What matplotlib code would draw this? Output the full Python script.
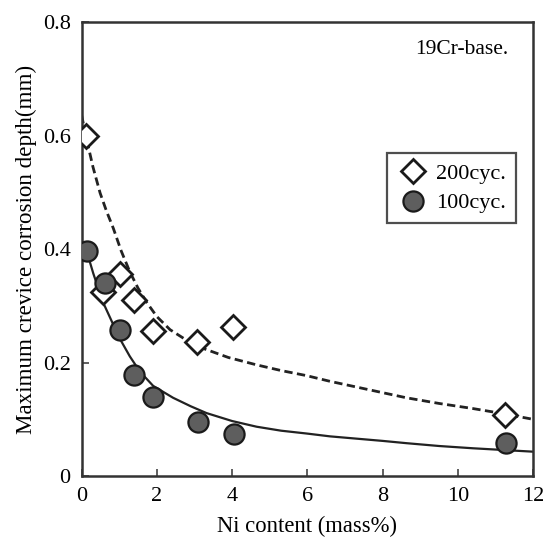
import matplotlib
matplotlib.use("Agg")
import matplotlib.pyplot as plt
import numpy as np

plt.rcParams['font.family'] = ['Liberation Serif', 'DejaVu Serif']

# measured points
ni_200 = [0.11, 0.57, 1.02, 1.39, 1.89, 3.07, 4.03, 11.24]
depth_200 = [0.600, 0.325, 0.357, 0.310, 0.256, 0.237, 0.262, 0.107]
ni_100 = [0.13, 0.62, 1.02, 1.40, 1.90, 3.10, 4.05, 11.27]
depth_100 = [0.397, 0.341, 0.257, 0.179, 0.140, 0.096, 0.075, 0.059]

# trend curves
curve_200_x = [0.0, 0.11, 0.3, 0.49, 0.66, 0.84, 1.05, 1.28, 1.5, 1.73, 2.0, 2.35, 2.8,
               3.23, 3.9, 4.65, 5.3, 5.98, 6.6, 7.3, 8.0, 8.63, 9.5, 10.4, 11.2, 12.0]
curve_200_y = [0.636, 0.600, 0.545, 0.499, 0.467, 0.437, 0.397, 0.360, 0.331, 0.306, 0.281,
               0.258, 0.239, 0.225, 0.209, 0.196, 0.186, 0.177, 0.167, 0.157, 0.147, 0.138,
               0.128, 0.119, 0.110, 0.100]
curve_100_x = [0.0, 0.13, 0.31, 0.57, 0.84, 1.05, 1.28, 1.55, 1.9, 2.43, 2.9, 3.32, 4.0,
               4.65, 5.3, 5.98, 6.6, 7.3, 8.0, 8.63, 9.5, 10.4, 11.2, 12.0]
curve_100_y = [0.405, 0.397, 0.357, 0.306, 0.267, 0.238, 0.211, 0.184, 0.159, 0.138, 0.123,
               0.111, 0.097, 0.087, 0.080, 0.075, 0.070, 0.066, 0.062, 0.058, 0.053, 0.049,
               0.046, 0.043]

fig = plt.figure(figsize=(5.48, 5.41), dpi=100)
ax = fig.add_axes([0.149, 0.120, 0.824, 0.839])

ax.plot(curve_200_x, curve_200_y, color='#222222', lw=2.0, ls=(0, (3, 1.6)), zorder=2)
ax.plot(curve_100_x, curve_100_y, color='#222222', lw=1.6, ls='-', zorder=2)

ax.plot(ni_200, depth_200, ls='none', marker='D', ms=12, mfc='white', mec='#1a1a1a',
        mew=2.0, label='200cyc.', zorder=3)
ax.plot(ni_100, depth_100, ls='none', marker='o', ms=14.5, mfc='#5e5e5e', mec='#1a1a1a',
        mew=1.6, label='100cyc.', zorder=3)

ax.set_xlim(0, 12)
ax.set_ylim(0, 0.8)
ax.set_xticks([0, 2, 4, 6, 8, 10, 12])
ax.set_yticks([0, 0.2, 0.4, 0.6, 0.8])
ax.set_yticklabels(['0', '0.2', '0.4', '0.6', '0.8'])
ax.tick_params(direction='in', length=5, width=1.2, color='#444444', labelsize=16, pad=8)

for s in ax.spines.values():
    s.set_linewidth(1.8)
    s.set_color('#333333')

ax.set_xlabel('Ni content (mass%)', fontsize=16.3, labelpad=7)
ax.set_ylabel('Maximum crevice corrosion depth(mm)', fontsize=16.6, labelpad=4)

ax.text(0.945, 0.96, '19Cr-base.', transform=ax.transAxes, ha='right', va='top', fontsize=15.5)

leg = ax.legend(loc='upper right', bbox_to_anchor=(0.962, 0.711), fontsize=16,
                frameon=True, fancybox=False, edgecolor='#222222', borderpad=0.45,
                handletextpad=0.35, handlelength=1.4, labelspacing=0.4, borderaxespad=0)
leg.get_frame().set_linewidth(1.6)

fig.savefig('out.png', dpi=100)
